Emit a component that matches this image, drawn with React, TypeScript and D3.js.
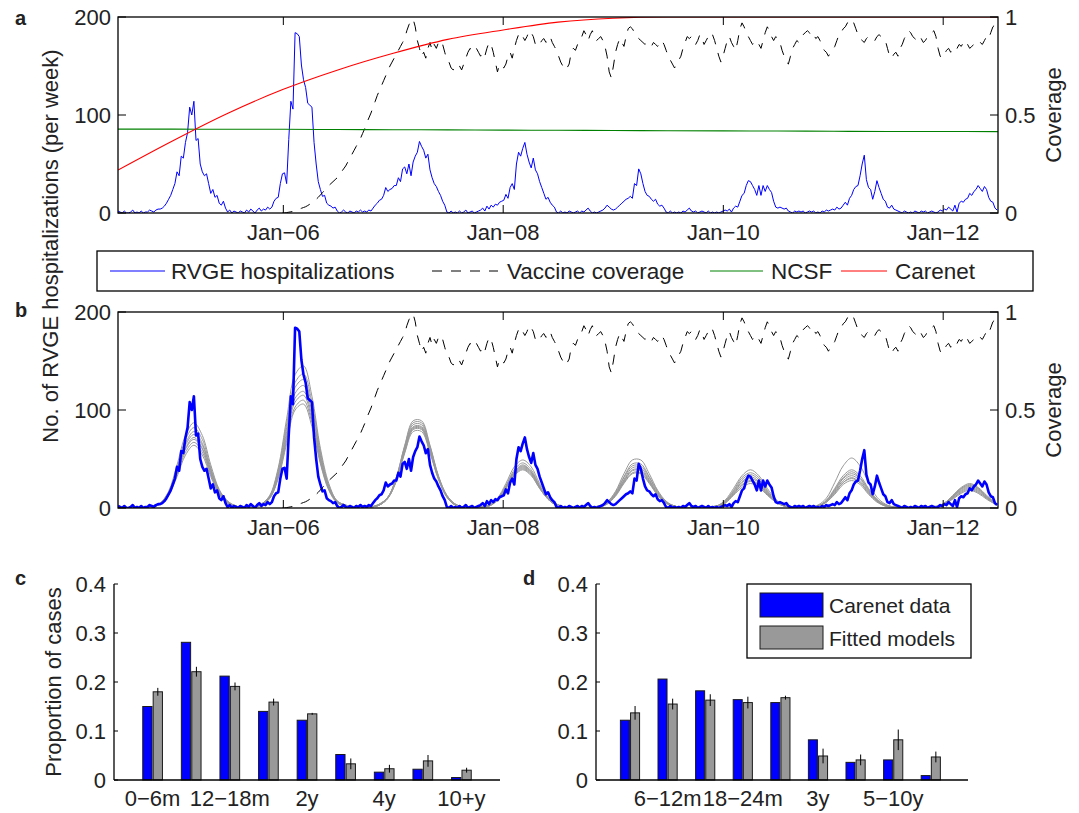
import React from 'react';
import * as d3 from 'd3';

// ---------- DATA ----------
// Weekly RVGE hospitalizations, seasons starting July 2004
const rvgeS1 = [2,1,0,2,0,0,1,3,0,1,0,2,0,1,1,3,2,1,3,4,4,5,7,10,14,18,24,30,42,38,58,56,72,82,108,100,114,74,76,50,42,38,40,30,20,24,16,18,10,8,12,5];
const rvgeS2 = [1,3,0,2,1,0,2,1,0,3,1,4,2,0,3,5,2,4,3,6,4,6,12,15,16,30,40,41,30,75,114,106,184,183,180,151,136,128,112,110,108,72,50,32,24,17,18,10,8,7,5,6];
const rvgeS3 = [2,0,1,3,1,0,2,1,0,2,1,3,1,2,1,3,2,5,8,10,13,14,18,26,22,24,25,28,28,36,32,45,47,40,50,38,52,58,62,73,68,64,56,60,44,36,30,27,22,18,12,8];
const rvgeS4 = [1,0,2,0,1,0,2,0,1,3,0,1,2,0,1,2,3,5,2,7,4,8,6,9,8,11,12,13,19,15,26,30,24,50,62,58,66,72,60,52,46,56,44,40,32,26,20,14,16,11,8,6];
const rvgeS5 = [1,0,2,0,1,0,2,1,0,1,2,0,2,1,3,5,2,0,1,0,1,2,3,5,8,6,4,3,4,6,8,10,12,14,15,17,15,30,28,45,40,30,22,18,17,14,12,14,9,7,8,5];
const rvgeS6 = [1,0,2,0,1,0,1,0,2,1,3,5,2,1,2,0,1,2,1,0,2,0,1,0,1,0,1,2,3,2,4,1,5,7,6,12,18,20,28,33,32,28,24,18,28,18,28,22,28,24,21,12];
const rvgeS7 = [6,5,6,5,4,5,2,1,0,2,1,2,1,2,0,1,2,1,2,0,1,0,2,1,3,2,3,4,3,6,4,5,8,11,8,15,18,24,27,28,38,50,59,34,26,24,14,22,33,26,20,14];
const rvgeS8 = [12,6,5,8,4,3,2,1,0,2,1,0,1,0,2,1,0,2,1,2,0,1,2,1,0,1,3,2,4,3,6,4,2,8,1,10,12,11,14,15,20,18,22,24,28,25,22,27,24,16,12,11,5,3];
const rvge = [...rvgeS1, ...rvgeS2, ...rvgeS3, ...rvgeS4, ...rvgeS5, ...rvgeS6, ...rvgeS7, ...rvgeS8];

// Weekly vaccine coverage, from week 78 (Jan 2006)
const coverageFirstWeek = 78;
const coverage = [
  0,0,0.002,0.004,0.006,0.008,0.012,0.016,0.02,0.024,
  0.028,0.032,0.038,0.045,0.052,0.06,0.07,0.08,0.092,0.104,
  0.116,0.128,0.14,0.15,0.16,0.17,0.18,0.195,0.21,0.225,
  0.24,0.26,0.28,0.3,0.32,0.34,0.36,0.38,0.405,0.43,
  0.46,0.485,0.51,0.54,0.57,0.6,0.625,0.65,0.675,0.7,
  0.725,0.75,0.77,0.79,0.81,0.83,0.85,0.87,
  .89,.93,.96,.98,.99,.95,.88,.84,.80,.82,
  .79,.84,.87,.83,.86,.84,.87,.88,.86,.82,
  .78,.77,.74,.73,.75,.74,.75,.73,.76,.79,
  .82,.84,.83,.85,.84,.82,.80,.82,.80,.84,
  .87,.86,.82,.77,.72,.76,.75,.74,.76,.80,
  .82,.79,.84,.88,.91,.89,.90,.88,.90,.93,
  .92,.90,.86,.85,.86,.88,.89,.87,.88,.90,
  .87,.85,.83,.80,.77,.75,.73,.74,.76,.82,
  .84,.83,.86,.88,.90,.93,.91,.88,.91,.93,
  .90,.88,.89,.90,.88,.85,.80,.72,.69,.75,
  .82,.86,.89,.87,.85,.90,.94,.95,.94,.92,
  .90,.89,.88,.87,.86,.87,.86,.85,.87,.86,
  .85,.87,.88,.86,.83,.80,.78,.76,.74,.76,
  .78,.80,.84,.87,.90,.89,.90,.88,.86,.88,
  .91,.89,.86,.88,.90,.92,.91,.88,.84,.80,
  .77,.80,.84,.88,.90,.87,.85,.83,.88,.94,
  .97,.95,.92,.90,.88,.86,.87,.88,.86,.84,
  .88,.92,.95,.93,.90,.88,.90,.89,.87,.83,
  .80,.77,.76,.80,.84,.86,.88,.87,.89,.91,
  .92,.93,.92,.90,.91,.89,.90,.88,.85,.83,
  .82,.80,.82,.83,.85,.88,.91,.92,.94,.95,
  .97,.98,.99,.97,.94,.91,.89,.88,.87,.89,
  .90,.90,.89,.88,.90,.91,.90,.89,.88,.84,
  .80,.79,.81,.82,.80,.84,.86,.89,.91,.93,
  .92,.90,.89,.88,.87,.89,.87,.88,.90,.91,
  .92,.93,.90,.84,.80,.79,.81,.83,.84,.82,
  .84,.85,.84,.86,.85,.87,.88,.86,.84,.85,
  .86,.85,.86,.87,.86,.88,.90,.89,.92,.95,
  .96,.94
];

// Half-yearly coverage estimates (Jul 2004 .. Jul 2012)
const ncsf = [0.428,0.428,0.427,0.427,0.426,0.425,0.424,0.423,0.422,0.421,0.42,0.419,0.418,0.417,0.416,0.416,0.415];
const carenet = [0.219,0.37,0.509,0.631,0.73,0.815,0.886,0.934,0.974,0.994,1,1,1,1,1,1,1];

// Fitted model trajectories, sampled every 4 weeks from July 2004
const model1 = [0,0,0,0,2,5,17,44,74,87,74,44,19,7,2,0,1,4,13,41,91,136,145,114,61,25,7,3,0,0,1,4,11,31,64,89,89,64,33,13,4,1,0,1,3,10,25,42,49,42,25,11,4,1,0,0,1,2,6,17,35,49,49,35,18,7,2,1,0,0,1,2,8,20,33,39,33,20,9,3,1,0,1,3,10,26,43,51,43,26,11,4,1,0,0,0,1,2,5,13,21,25,21,13,6];
const model2 = [0,0,0,0,2,5,16,41,70,82,70,41,18,7,2,0,1,4,12,39,86,128,137,108,58,23,7,3,0,0,1,4,11,31,63,87,87,63,32,13,4,1,0,1,3,9,23,39,46,39,23,10,4,1,0,0,0,2,6,16,32,45,45,32,17,6,2,0,0,0,1,2,7,18,31,36,31,18,8,3,1,0,1,2,8,20,33,39,33,20,9,3,1,0,0,0,0,1,5,12,20,24,20,12,5];
const model3 = [0,0,0,0,2,5,16,39,66,78,66,39,17,6,2,0,1,4,12,37,82,123,131,103,55,22,7,3,0,0,1,4,11,30,62,85,85,62,32,12,4,1,0,1,3,9,22,37,44,37,22,10,4,1,0,0,0,2,5,15,31,43,43,31,16,6,2,0,0,0,1,2,7,17,29,34,29,17,7,3,1,0,1,2,7,19,31,37,31,19,8,3,1,0,0,0,0,1,5,12,20,23,20,12,5];
const model4 = [0,0,0,0,2,5,15,38,64,75,64,38,17,6,2,0,1,4,11,35,78,117,125,98,53,21,6,3,0,0,1,3,10,29,60,83,83,60,31,12,3,1,0,1,3,9,22,37,43,37,22,9,3,1,0,0,0,2,5,14,29,41,41,29,15,6,2,0,0,0,1,2,6,16,27,32,27,16,7,3,1,0,1,2,7,18,30,35,30,18,8,3,1,0,0,0,0,1,4,11,19,22,19,11,5];
const model5 = [0,0,0,0,1,4,14,36,61,72,61,36,16,6,1,0,1,4,11,34,74,112,119,94,50,20,6,2,0,0,1,3,10,29,60,82,82,60,31,12,3,1,0,1,3,8,21,36,42,36,21,9,3,1,0,0,0,2,5,14,28,39,39,28,14,6,2,0,0,0,1,2,6,15,26,30,26,15,7,2,1,0,1,2,7,17,28,33,28,17,7,3,1,0,0,0,0,1,4,11,18,21,18,11,5];
const model6 = [0,0,0,0,1,4,14,35,60,70,60,35,15,6,1,0,1,3,10,32,72,108,115,90,49,20,6,2,0,0,1,3,10,28,58,81,81,58,30,12,3,1,0,1,2,8,21,35,41,35,21,9,3,1,0,0,0,2,5,13,27,38,38,27,14,5,2,0,0,0,1,2,6,14,24,28,24,14,6,2,1,0,1,2,6,16,26,31,26,16,7,2,1,0,0,0,0,1,4,10,17,20,17,10,4];
const model7 = [0,0,0,0,1,4,13,34,57,67,57,34,15,5,1,0,1,3,10,31,69,103,110,87,47,19,6,2,0,0,1,3,10,28,57,80,80,57,30,11,3,1,0,1,2,8,20,34,40,34,20,9,3,1,0,0,0,1,4,13,26,36,36,26,13,5,1,0,0,0,1,2,5,14,23,27,23,14,6,2,1,0,1,2,6,15,26,30,26,15,7,2,1,0,0,0,0,1,4,10,16,19,16,10,4];
const model8 = [0,0,0,0,1,4,13,32,54,64,54,32,14,5,1,0,1,3,10,30,66,100,106,83,45,18,5,2,0,0,1,3,10,27,56,78,78,56,29,11,3,1,0,1,2,8,20,33,39,33,20,9,3,1,0,0,0,1,4,12,25,35,35,25,13,5,1,0,0,0,1,2,5,13,21,25,21,13,6,2,1,0,1,2,6,14,24,28,24,14,6,2,1,0,0,0,0,1,4,9,15,18,15,9,4];
const models = [model1, model2, model3, model4, model5, model6, model7, model8];

const xTickLabels = ['Jan\u221206', 'Jan\u221208', 'Jan\u221210', 'Jan\u221212'];
const xTickYears = [2006, 2008, 2010, 2012];
const yTicksCount = [0, 100, 200];
const yTicksCov = [0, 0.5, 1];
const yTicksProp = [0, 0.1, 0.2, 0.3, 0.4];

// Age distribution
const ageGroups = ['0\u22126m', '6\u221212m', '12\u221218m', '18\u221224m', '2y', '3y', '4y', '5\u221210y', '10+y'];
const cData = [0.150, 0.281, 0.212, 0.140, 0.122, 0.052, 0.016, 0.022, 0.005];
const cModel = [0.180, 0.221, 0.191, 0.159, 0.135, 0.033, 0.023, 0.039, 0.020];
const cErr = [0.008, 0.010, 0.008, 0.007, 0.002, 0.011, 0.008, 0.012, 0.005];
const dData = [0.122, 0.206, 0.182, 0.164, 0.158, 0.082, 0.036, 0.041, 0.009];
const dModel = [0.137, 0.155, 0.163, 0.158, 0.168, 0.049, 0.041, 0.082, 0.047];
const dErr = [0.014, 0.011, 0.012, 0.012, 0.004, 0.015, 0.011, 0.021, 0.011];
const cLabelIdx = [0, 2, 4, 6, 8];
const dLabelIdx = [1, 3, 5, 7];

// ---------- STYLE ----------
const FONT = "'Liberation Sans', Arial, Helvetica, sans-serif";
const FS = 22;
const LFS = 22.5;
const BLUE = '#0000ff';
const GREEN = '#008000';
const RED = '#ff0000';
const GRAY = '#999999';
const DASH = '10 9';

const START = new Date(2004, 6, 1);
const END = new Date(2012, 6, 1);
const weekDate = (i: number) => d3.timeDay.offset(START, 7 * i);
const halfYearDate = (i: number) => d3.timeMonth.offset(START, 6 * i);
const modelDate = (k: number) => d3.timeDay.offset(START, 28 * k);

const X0 = 118, X1 = 998;
const x = d3.scaleTime().domain([START, END]).range([X0, X1]);

function TimePanel({ top, bottom, id, letter, letterY, detailed }: any) {
  const y = d3.scaleLinear().domain([0, 200]).range([bottom, top]);
  const yc = d3.scaleLinear().domain([0, 1]).range([bottom, top]);
  const rvgeLine = d3.line<number>().x((_, i) => x(weekDate(i))).y(d => y(d));
  const covLine = d3.line<number>().x((_, i) => x(weekDate(i + coverageFirstWeek))).y(d => yc(d));
  const halfLine = d3.line<number>().x((_, i) => x(halfYearDate(i))).y(d => yc(d)).curve(d3.curveMonotoneX);
  const modelLine = d3.line<number>().x((_, k) => x(modelDate(k))).y(d => y(d)).curve(d3.curveCatmullRom.alpha(0.5));
  const tl = 8;
  return (
    <g>
      <defs>
        <clipPath id={id}>
          <rect x={X0} y={top} width={X1 - X0} height={bottom - top} />
        </clipPath>
      </defs>
      <g clipPath={`url(#${id})`}>
        {!detailed && models.map((m, j) => (
          <path key={j} d={modelLine(m) || ''} fill="none" stroke={GRAY} strokeWidth={1} />
        ))}
        <path d={rvgeLine(rvge) || ''} fill="none" stroke={BLUE} strokeWidth={detailed ? 1 : 2.6} strokeLinejoin="round" />
        <path d={covLine(coverage) || ''} fill="none" stroke="#000" strokeWidth={1} strokeDasharray={DASH} />
        {detailed && <path d={halfLine(ncsf) || ''} fill="none" stroke={GREEN} strokeWidth={1.1} />}
        {detailed && <path d={halfLine(carenet) || ''} fill="none" stroke={RED} strokeWidth={1.1} />}
      </g>
      <rect x={X0} y={top} width={X1 - X0} height={bottom - top} fill="none" stroke="#000" strokeWidth={1.3} />
      {xTickYears.map((yr, i) => {
        const xp = x(new Date(yr, 0, 1));
        return (
          <g key={yr}>
            <line x1={xp} x2={xp} y1={bottom} y2={bottom - tl} stroke="#000" strokeWidth={1} />
            <line x1={xp} x2={xp} y1={top} y2={top + tl} stroke="#000" strokeWidth={1} />
            <text x={xp} y={bottom + 27} textAnchor="middle" fontSize={FS} fontFamily={FONT} fill="#222">{xTickLabels[i]}</text>
          </g>
        );
      })}
      {yTicksCount.map(v => (
        <g key={v}>
          <line x1={X0} x2={X0 + tl} y1={y(v)} y2={y(v)} stroke="#000" strokeWidth={1} />
          <text x={X0 - 7} y={y(v)} dy="0.36em" textAnchor="end" fontSize={FS} fontFamily={FONT} fill="#222">{v}</text>
        </g>
      ))}
      {yTicksCov.map(v => (
        <g key={v}>
          <line x1={X1} x2={X1 - tl} y1={yc(v)} y2={yc(v)} stroke="#000" strokeWidth={1} />
          <text x={X1 + 7} y={yc(v)} dy="0.36em" textAnchor="start" fontSize={FS} fontFamily={FONT} fill="#222">{v}</text>
        </g>
      ))}
      <text transform={`translate(1061,${(top + bottom) / 2}) rotate(-90)`} textAnchor="middle" fontSize={FS} fontFamily={FONT} fill="#222">Coverage</text>
      <text x={15} y={letterY} fontSize={20} fontWeight="bold" fontFamily={FONT} fill="#222">{letter}</text>
    </g>
  );
}

function BarPanel({ left, right, domain, data, model, err, labelIdx, letter, letterX, showTitle, showLegend }: any) {
  const top = 584, bottom = 780;
  const xs = d3.scaleLinear().domain(domain).range([left, right]);
  const ys = d3.scaleLinear().domain([0, 0.4]).range([bottom, top]);
  const w1 = 0.015, w2 = 0.255;
  return (
    <g>
      {data.map((v: number, i: number) => {
        const c = i + 1;
        const mv = model[i];
        const e = err[i];
        const gx = xs(c + (w1 + w2) / 2);
        return (
          <g key={i}>
            <rect x={xs(c - w2)} y={ys(v)} width={xs(c - w1) - xs(c - w2)} height={ys(0) - ys(v)} fill={BLUE} stroke="#1a1a1a" strokeWidth={1} />
            <rect x={xs(c + w1)} y={ys(mv)} width={xs(c + w2) - xs(c + w1)} height={ys(0) - ys(mv)} fill={GRAY} stroke="#1a1a1a" strokeWidth={1} />
            <line x1={gx} x2={gx} y1={ys(mv - e)} y2={ys(mv + e)} stroke="#000" strokeWidth={1} />
          </g>
        );
      })}
      <line x1={left} x2={right} y1={bottom} y2={bottom} stroke="#000" strokeWidth={1.3} />
      <line x1={left} x2={left} y1={top} y2={bottom} stroke="#000" strokeWidth={1.3} />
      {yTicksProp.map(v => (
        <g key={v}>
          <line x1={left} x2={left + 4} y1={ys(v)} y2={ys(v)} stroke="#000" strokeWidth={1} />
          <text x={left - 8} y={ys(v)} dy="0.36em" textAnchor="end" fontSize={FS} fontFamily={FONT} fill="#222">{v}</text>
        </g>
      ))}
      {labelIdx.map((i: number) => (
        <text key={i} x={xs(i + 1)} y={806} textAnchor="middle" fontSize={FS} fontFamily={FONT} fill="#222">{ageGroups[i]}</text>
      ))}
      {showTitle && (
        <text transform={`translate(61,${(top + bottom) / 2}) rotate(-90)`} textAnchor="middle" fontSize={FS} fontFamily={FONT} fill="#222">Proportion of cases</text>
      )}
      <text x={letterX} y={585} fontSize={20} fontWeight="bold" fontFamily={FONT} fill="#222">{letter}</text>
      {showLegend && (
        <g>
          <rect x={747} y={584} width={224} height={74} fill="#fff" stroke="#000" strokeWidth={1.3} />
          <rect x={760} y={593} width={63} height={24} fill={BLUE} stroke="#1a1a1a" strokeWidth={1} />
          <rect x={760} y={626} width={63} height={23} fill={GRAY} stroke="#1a1a1a" strokeWidth={1} />
          <text x={829} y={613} fontSize={21} fontFamily={FONT} fill="#222">Carenet data</text>
          <text x={829} y={646} fontSize={21} fontFamily={FONT} fill="#222">Fitted models</text>
        </g>
      )}
    </g>
  );
}

export default function App() {
  return (
    <svg width={1079} height={813} style={{ position: 'absolute', left: 0, top: 0, background: '#fff' }}>
      <rect width={1079} height={813} fill="#fff" />
      <TimePanel top={17} bottom={213} id="clipA" letter="a" letterY={25} detailed={true} />
      <TimePanel top={312} bottom={508} id="clipB" letter="b" letterY={317} detailed={false} />
      <text transform="translate(58,246) rotate(-90)" textAnchor="middle" fontSize={FS} fontFamily={FONT} fill="#222">No. of RVGE hospitalizations (per week)</text>
      {/* legend for a */}
      <g>
        <rect x={97} y={251} width={936} height={40} fill="#fff" stroke="#000" strokeWidth={1.3} />
        <line x1={110} x2={165} y1={271} y2={271} stroke={BLUE} strokeWidth={1} />
        <text x={171} y={279} fontSize={LFS} fontFamily={FONT} fill="#222">RVGE hospitalizations</text>
        <line x1={432} x2={498} y1={271} y2={271} stroke="#000" strokeWidth={1} strokeDasharray={DASH} />
        <text x={507} y={279} fontSize={LFS} fontFamily={FONT} fill="#222">Vaccine coverage</text>
        <line x1={710} x2={763} y1={271} y2={271} stroke={GREEN} strokeWidth={1} />
        <text x={771} y={279} fontSize={LFS} fontFamily={FONT} fill="#222">NCSF</text>
        <line x1={841} x2={887} y1={271} y2={271} stroke={RED} strokeWidth={1} />
        <text x={895} y={279} fontSize={LFS} fontFamily={FONT} fill="#222">Carenet</text>
      </g>
      <BarPanel left={114} right={500} domain={[0, 10]} data={cData} model={cModel} err={cErr} labelIdx={cLabelIdx} letter="c" letterX={15} showTitle={true} showLegend={false} />
      <BarPanel left={596} right={968} domain={[0.096, 9.99]} data={dData} model={dModel} err={dErr} labelIdx={dLabelIdx} letter="d" letterX={523} showTitle={false} showLegend={true} />
    </svg>
  );
}
